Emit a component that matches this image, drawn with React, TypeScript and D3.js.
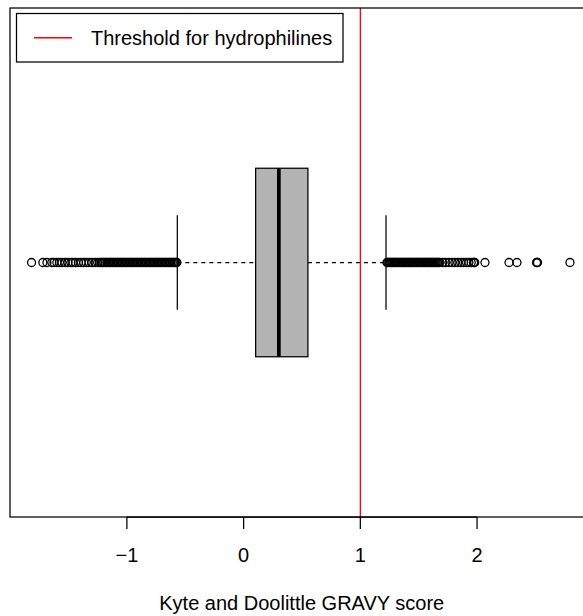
import React from "react";
import * as d3 from "d3";

// Five-number summary of the GRAVY score distribution
const boxStats = { lowerWhisker: -0.568, q1: 0.103, median: 0.302, q3: 0.551, upperWhisker: 1.22 };

// Outliers below the lower whisker
const lowOutliers = [
  -1.817, -1.72, -1.685, -1.643, -1.625, -1.6, -1.578, -1.556, -1.53, -1.505, -1.48,
  -1.462, -1.44, -1.415, -1.392, -1.37, -1.348, -1.325, -1.3, -1.272, -1.25,
  -1.232, -1.22, -1.208, -1.197, -1.185, -1.172, -1.16, -1.15, -1.138, -1.126,
  -1.115, -1.104, -1.092, -1.08, -1.07, -1.058, -1.046, -1.035, -1.024, -1.012,
  -1.0, -0.99, -0.978, -0.966, -0.955, -0.944, -0.932, -0.92, -0.91, -0.898,
  -0.886, -0.875, -0.864, -0.852, -0.84, -0.83, -0.818, -0.806, -0.795, -0.784,
  -0.772, -0.76, -0.75, -0.738, -0.726, -0.715, -0.704, -0.692, -0.68, -0.67,
  -0.658, -0.646, -0.635, -0.624, -0.612, -0.6, -0.59, -0.58, -0.572,
];

// Outliers above the upper whisker
const highOutliers = [
  1.228, 1.236, 1.245, 1.254, 1.263, 1.272, 1.281, 1.29, 1.3, 1.31, 1.32, 1.33,
  1.34, 1.35, 1.36, 1.37, 1.38, 1.39, 1.4, 1.41, 1.42, 1.43, 1.44, 1.45, 1.46,
  1.47, 1.48, 1.49, 1.5, 1.51, 1.52, 1.53, 1.54, 1.55, 1.56, 1.57, 1.58, 1.59,
  1.6, 1.61, 1.62, 1.63, 1.64, 1.65, 1.66, 1.67, 1.68, 1.705, 1.73, 1.76, 1.785,
  1.81, 1.835, 1.86, 1.885, 1.91, 1.93, 1.95, 1.97, 1.975, 1.98, 2.068, 2.274,
  2.342, 2.51, 2.513, 2.518, 2.796,
];

const threshold = 1;
const tickValues = [-1, 0, 1, 2];
const axisTitle = "Kyte and Doolittle GRAVY score";
const legendLabel = "Threshold for hydrophilines";

const W = 583;
const H = 616;
const plot = { left: 10, right: 591.5, top: 8, bottom: 517 };

export default function App() {
  const all = [...lowOutliers, ...highOutliers, boxStats.lowerWhisker, boxStats.upperWhisker];
  const [mn, mx] = d3.extent(all) as [number, number];
  const pad = (mx - mn) * 0.04;
  const x = d3.scaleLinear().domain([mn - pad, mx + pad]).range([plot.left, plot.right]);

  // vertical position: single group at 1, ylim 0.5..1.5 padded 4%
  const y = d3.scaleLinear().domain([0.46, 1.54]).range([plot.bottom, plot.top]);
  const yc = y(1);
  const boxHalf = y(1) - y(1.2);
  const stapleHalf = boxHalf / 2;

  const lw = 1.25;
  const font = "Liberation Sans, Arial, Helvetica, sans-serif";

  return (
    <svg
      width={W}
      height={H}
      style={{ position: "absolute", left: 0, top: 0, background: "#fff" }}
      fontFamily={font}
    >
      <rect x={0} y={0} width={W} height={H} fill="#fff" />
      {/* whiskers */}
      <line x1={x(boxStats.lowerWhisker)} x2={x(boxStats.q1)} y1={yc} y2={yc} stroke="#000" strokeWidth={lw} strokeDasharray="4,4" />
      <line x1={x(boxStats.q3)} x2={x(boxStats.upperWhisker)} y1={yc} y2={yc} stroke="#000" strokeWidth={lw} strokeDasharray="4,4" />
      <line x1={x(boxStats.lowerWhisker)} x2={x(boxStats.lowerWhisker)} y1={yc - stapleHalf} y2={yc + stapleHalf} stroke="#000" strokeWidth={lw} />
      <line x1={x(boxStats.upperWhisker)} x2={x(boxStats.upperWhisker)} y1={yc - stapleHalf} y2={yc + stapleHalf} stroke="#000" strokeWidth={lw} />
      {/* box */}
      <rect
        x={x(boxStats.q1)}
        y={yc - boxHalf}
        width={x(boxStats.q3) - x(boxStats.q1)}
        height={boxHalf * 2}
        fill="#b3b3b3"
        stroke="#000"
        strokeWidth={lw}
      />
      <line x1={x(boxStats.median)} x2={x(boxStats.median)} y1={yc - boxHalf} y2={yc + boxHalf} stroke="#000" strokeWidth={3.7} />
      {/* outliers */}
      {[...lowOutliers, ...highOutliers].map((v, i) => (
        <circle key={i} cx={x(v)} cy={yc} r={4} fill="none" stroke="#000" strokeWidth={1.3} />
      ))}
      {/* threshold */}
      <line x1={x(threshold)} x2={x(threshold)} y1={plot.top} y2={plot.bottom} stroke="#ff0000" strokeWidth={1.3} />
      {/* frame */}
      <rect x={plot.left} y={plot.top} width={plot.right - plot.left + 2} height={plot.bottom - plot.top} fill="none" stroke="#000" strokeWidth={lw} />
      {/* x axis */}
      <line x1={x(tickValues[0])} x2={x(tickValues[tickValues.length - 1])} y1={plot.bottom} y2={plot.bottom} stroke="#000" strokeWidth={lw} />
      {tickValues.map((t) => (
        <g key={t}>
          <line x1={x(t)} x2={x(t)} y1={plot.bottom} y2={plot.bottom + 12} stroke="#000" strokeWidth={lw} />
          <text x={x(t)} y={562} textAnchor="middle" fontSize={20} fill="#000">
            {t < 0 ? "\u2212" + Math.abs(t) : String(t)}
          </text>
        </g>
      ))}
      <text x={(plot.left + plot.right + 2) / 2} y={610} textAnchor="middle" fontSize={20} fill="#000">
        {axisTitle}
      </text>
      {/* legend */}
      <rect x={16.5} y={13.5} width={326.5} height={48.5} fill="#fff" stroke="#000" strokeWidth={lw} />
      <line x1={34} x2={72} y1={37.7} y2={37.7} stroke="#ff0000" strokeWidth={1.5} />
      <text x={91} y={44.5} fontSize={20} fill="#000">
        {legendLabel}
      </text>
    </svg>
  );
}
